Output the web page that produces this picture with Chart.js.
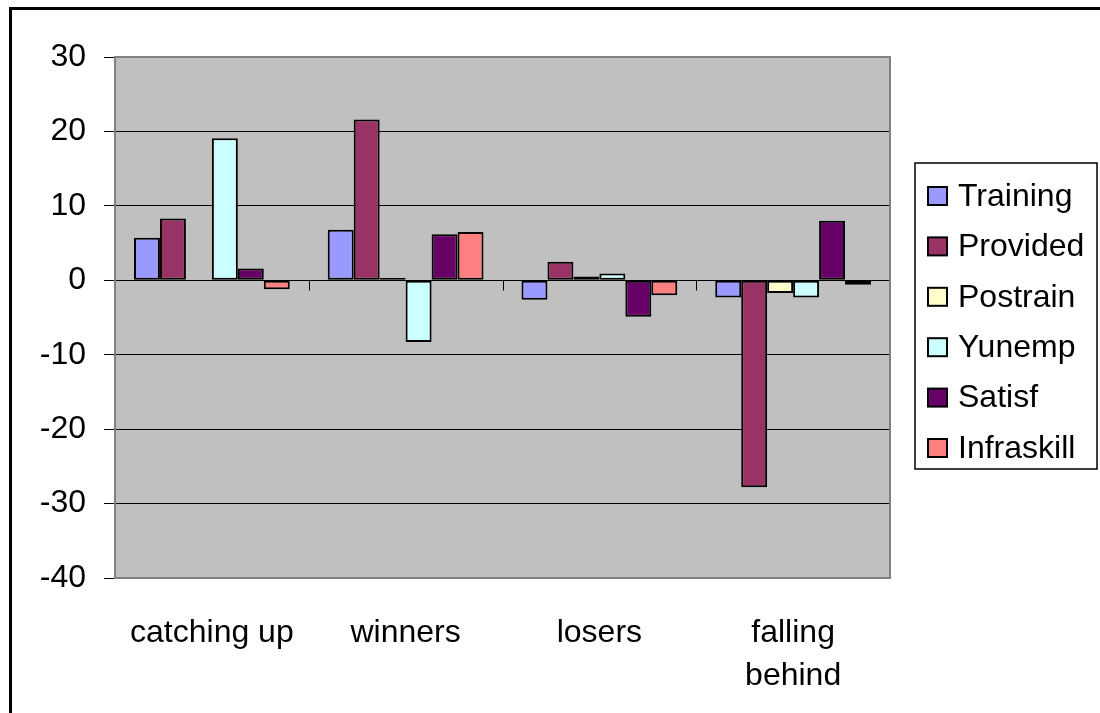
<!DOCTYPE html>
<html lang="en">
<head>
    <meta charset="UTF-8">
    <title>Chart</title>
    <script src="https://cdn.jsdelivr.net/npm/chart.js@4.4.0/dist/chart.umd.min.js"></script>
    <style>
        body { margin: 0; background: #fff; }
    </style>
</head>
<body>

    <canvas id="chart" width="1100" height="713"></canvas>

    <script>
        const groups = ['catching up', 'winners', 'losers', ['falling', 'behind']]
        const seriesNames = ['Training', 'Provided', 'Postrain', 'Yunemp', 'Satisf', 'Infraskill']
        const seriesColors = ['#9999FF', '#993366', '#FFFFCC', '#CCFFFF', '#660066', '#FF8080']

        const training = [5.7, 6.8, -2.6, -2.3]
        const provided = [8.3, 21.6, 2.5, -27.8]
        const postrain = [null, 0.3, 0.5, -1.7]
        const yunemp = [19.1, -8.3, 0.9, -2.3]
        const satisf = [1.6, 6.2, -4.9, 8.0]
        const infraskill = [-1.2, 6.5, -2.0, -0.6]

        const yTicks = [-40, -30, -20, -10, 0, 10, 20, 30]

        const allValues = [training, provided, postrain, yunemp, satisf, infraskill]
        const FONT = '"Liberation Sans", Arial, sans-serif'

        // grey plot area, zero axis, legend box and outer frame
        const excelLook = {
            id: 'excelLook',
            beforeDraw(chart) {
                const { ctx, chartArea: a } = chart
                ctx.save()
                ctx.fillStyle = '#C0C0C0'
                ctx.fillRect(a.left, a.top, a.right - a.left, a.bottom - a.top)
                ctx.restore()
            },
            afterDatasetsDraw(chart) {
                const { ctx, chartArea: a, scales } = chart
                const y0 = Math.round(scales.y.getPixelForValue(0)) + 0.5
                ctx.save()
                ctx.strokeStyle = '#000'
                ctx.lineWidth = 1
                ctx.beginPath()
                ctx.moveTo(a.left, y0)
                ctx.lineTo(a.right, y0)
                const n = groups.length
                const step = (a.right - a.left) / n
                for (let i = 1; i <= n; i++) {
                    const x = Math.round(a.left + i * step) + 0.5
                    ctx.moveTo(x, y0)
                    ctx.lineTo(x, y0 + 10)
                }
                ctx.stroke()

                // plot border
                ctx.strokeStyle = '#808080'
                ctx.lineWidth = 2
                ctx.strokeRect(a.left, a.top, a.right - a.left, a.bottom - a.top)
                ctx.restore()
            },
            afterDraw(chart) {
                const { ctx } = chart
                ctx.save()
                // legend
                const lx = 915, ly = 163, lw = 182, lh = 306
                ctx.fillStyle = '#fff'
                ctx.fillRect(lx, ly, lw, lh)
                ctx.strokeStyle = '#000'
                ctx.lineWidth = 1.5
                ctx.strokeRect(lx, ly, lw, lh)
                ctx.font = '32px ' + FONT
                ctx.textBaseline = 'middle'
                seriesNames.forEach((name, i) => {
                    const cy = ly + 33 + i * 50.4
                    ctx.fillStyle = seriesColors[i]
                    ctx.fillRect(928, cy - 9, 19, 18)
                    ctx.strokeStyle = '#000'
                    ctx.lineWidth = 2
                    ctx.strokeRect(928, cy - 9, 19, 18)
                    ctx.fillStyle = '#000'
                    ctx.fillText(name, 958, cy + 1)
                })
                // outer frame
                ctx.strokeStyle = '#000'
                ctx.lineWidth = 3
                ctx.strokeRect(10.5, 8.5, 1300, 1000)
                ctx.restore()
            }
        }

        const ctx = document.getElementById('chart').getContext('2d')

        const myChart = new Chart(ctx, {
            type: 'bar',
            data: {
                labels: groups,
                datasets: seriesNames.map((name, i) => ({
                    label: name,
                    data: allValues[i],
                    backgroundColor: seriesColors[i],
                    borderColor: '#000',
                    borderWidth: 2,
                    borderSkipped: false,
                    barPercentage: 1,
                    categoryPercentage: 0.804
                }))
            },
            options: {
                responsive: false,
                animation: false,
                layout: {
                    padding: { top: 57, right: 210, bottom: 0, left: 0 }
                },
                plugins: {
                    legend: { display: false },
                    tooltip: { enabled: false }
                },
                scales: {
                    x: {
                        grid: { display: false, drawTicks: false },
                        border: { display: false },
                        ticks: {
                            color: '#000',
                            padding: 34,
                            font: { size: 32, family: FONT, lineHeight: 1.33 },
                            maxRotation: 0
                        },
                        afterFit(scale) { scale.height = 135 }
                    },
                    y: {
                        min: -40,
                        max: 30,
                        afterBuildTicks(scale) {
                            scale.ticks = yTicks.map(v => ({ value: v }))
                        },
                        grid: {
                            color: '#000',
                            lineWidth: 1,
                            tickLength: 11,
                            tickColor: '#000'
                        },
                        border: { display: true, color: '#808080', width: 2 },
                        ticks: {
                            color: '#000',
                            padding: 18,
                            font: { size: 32, family: FONT }
                        },
                        afterFit(scale) { scale.width = 115 }
                    }
                }
            },
            plugins: [excelLook]
        })
    </script>
</body>
</html>
